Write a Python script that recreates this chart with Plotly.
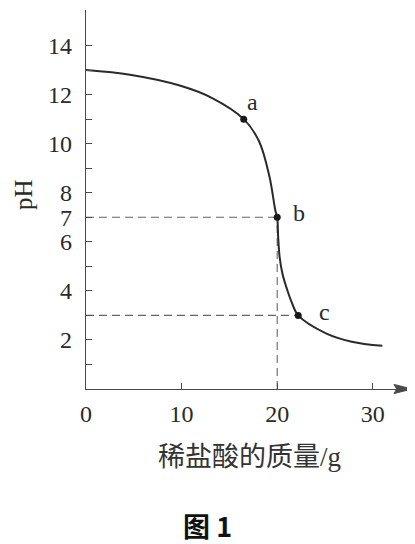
import plotly.graph_objects as go

# Curve data
mass = [0, 4.6, 9.8, 13.2, 16.5, 18.1, 19.2, 19.8, 20.0, 20.1, 20.25, 20.55, 21.0, 21.5, 22.2, 25.1, 27.8, 31.0]
ph = [13.0, 12.81, 12.37, 11.86, 11.0, 10.1, 8.64, 7.29, 7.0, 6.2, 5.4, 4.7, 4.1, 3.55, 3.0, 2.27, 1.93, 1.76]

point_names = ["a", "b", "c"]
point_mass = [16.5, 20.0, 22.2]
point_ph = [11.0, 7.0, 3.0]

x_tickvals = [0, 10, 20, 30]
x_ticktext = ["0", "10", "20", "30"]
y_tickvals = [1, 2, 3, 4, 5, 6, 7, 8, 9, 10, 11, 12, 13, 14]
y_ticktext = ["", "2", "", "4", "", "6", "7", "8", "", "10", "", "12", "", "14"]

x_title = "稀盐酸的质量/g"
y_title = "pH"
caption = "图 1"

SERIF = "Liberation Serif, Noto Sans CJK SC"
INK = "#2a2a2a"
AXIS = "#4a4a4a"
DASH = "#666666"

fig = go.Figure()

# dashed guide lines from points b and c
fig.add_trace(go.Scatter(x=[0, point_mass[1]], y=[point_ph[1], point_ph[1]], mode="lines",
                         line=dict(color=DASH, width=1.1, dash="8px,5px"), hoverinfo="skip"))
fig.add_trace(go.Scatter(x=[0, point_mass[2]], y=[point_ph[2], point_ph[2]], mode="lines",
                         line=dict(color=DASH, width=1.1, dash="8px,5px"), hoverinfo="skip"))
fig.add_trace(go.Scatter(x=[point_mass[1], point_mass[1]], y=[0, point_ph[1]], mode="lines",
                         line=dict(color=DASH, width=1.1, dash="8px,5px"), hoverinfo="skip"))

# titration curve
fig.add_trace(go.Scatter(x=mass, y=ph, mode="lines",
                         line=dict(color=INK, width=2, shape="spline", smoothing=1.0),
                         hoverinfo="skip"))

# marked points
fig.add_trace(go.Scatter(x=point_mass, y=point_ph, mode="markers",
                         marker=dict(color="#1a1a1a", size=7), hoverinfo="skip"))

label_shift = {"a": (9, 17), "b": (22, 4), "c": (26, 3)}
for name, xm, yp in zip(point_names, point_mass, point_ph):
    dx, dy = label_shift[name]
    fig.add_annotation(x=xm, y=yp, text=name, showarrow=False, xshift=dx, yshift=dy,
                       xanchor="center", yanchor="middle",
                       font=dict(family=SERIF, size=24, color=INK))

# axis titles and caption
fig.add_annotation(xref="paper", yref="paper", x=-0.19, y=0.512, text=y_title,
                   textangle=-90, showarrow=False, xanchor="center", yanchor="middle",
                   font=dict(family=SERIF, size=25, color=INK))
fig.add_annotation(xref="paper", yref="paper", x=0.503, y=-0.179, text=x_title,
                   showarrow=False, xanchor="center", yanchor="middle",
                   font=dict(family=SERIF, size=27, color="#333"))
fig.add_annotation(xref="paper", yref="paper", x=0.373, y=-0.361, text=caption,
                   showarrow=False, xanchor="center", yanchor="middle",
                   font=dict(family="Noto Sans CJK SC", size=27, color="#111", weight="bold"))

# arrow head on the x axis
fig.add_shape(type="path", xref="paper", yref="paper",
              path="M 1.0,0 L 0.945,0.012 L 0.953,0 L 0.945,-0.012 Z",
              fillcolor=AXIS, line=dict(color=AXIS, width=1))

# the page body has an 8px margin, so the figure is 8px smaller and shifted
fig.update_layout(
    width=407, height=536,
    margin=dict(l=78, r=3, t=2, b=155),
    paper_bgcolor="white", plot_bgcolor="white",
    showlegend=False,
    xaxis=dict(range=[0, 34.1], showline=True, linecolor=AXIS, linewidth=1.4,
               ticks="inside", ticklen=6, tickcolor=AXIS, tickwidth=1.2, automargin=False,
               tickvals=x_tickvals, ticktext=x_ticktext, showgrid=False, zeroline=False,
               tickfont=dict(family=SERIF, size=24, color=INK), ticklabelstandoff=3),
    yaxis=dict(range=[0, 15.45], showline=True, linecolor=AXIS, linewidth=1.4,
               ticks="inside", ticklen=6, tickcolor=AXIS, tickwidth=1.2, automargin=False,
               tickvals=y_tickvals, ticktext=y_ticktext, showgrid=False, zeroline=False,
               tickfont=dict(family=SERIF, size=24, color=INK), ticklabelstandoff=8),
)

fig.write_html("out.html")
